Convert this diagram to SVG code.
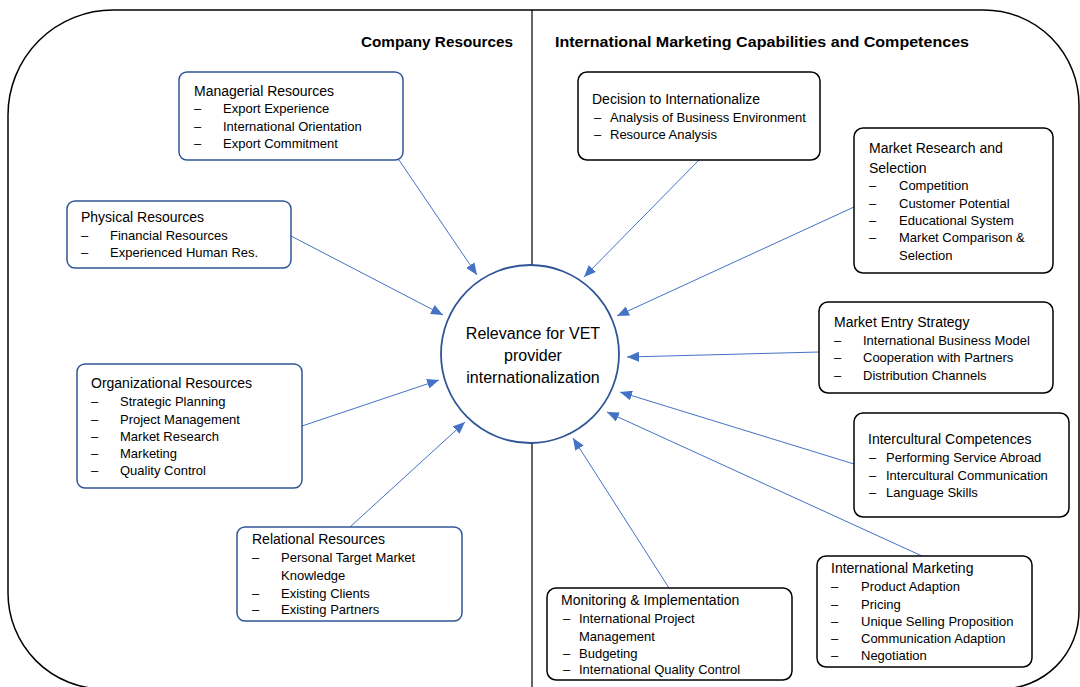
<svg xmlns="http://www.w3.org/2000/svg" width="1080" height="687" viewBox="0 0 1080 687">
<defs>
<style>
.frame{fill:none;stroke:#000;stroke-width:1.5}
.div{stroke:#000;stroke-width:1.2}
.lbox{fill:#fff;stroke:#2F5597;stroke-width:1.5}
.rbox{fill:#fff;stroke:#000;stroke-width:1.5}
.hub{fill:#fff;stroke:#2F5597;stroke-width:1.8}
.con{stroke:#4472C4;stroke-width:1;fill:none;marker-end:url(#ah)}
text{font-family:"Liberation Sans",Arial,sans-serif;fill:#000}
.h{font-size:15.5px;font-weight:bold}
.t{font-size:14px}
.i{font-size:13px}
.c{font-size:16px;text-anchor:middle}
</style>
<marker id="ah" markerUnits="userSpaceOnUse" markerWidth="13" markerHeight="10" refX="12" refY="5" orient="auto">
<path d="M0,0 L12,5 L0,10 Z" fill="#4472C4"/>
</marker>
</defs>
<rect width="1080" height="687" fill="#fff"/>
<path class="frame" d="M113,10 H984 A95 95 0 0 1 1079,105 V611 A78 78 0 0 1 1001,689 H104 A96 96 0 0 1 8,593 V115 A105 105 0 0 1 113,10 Z"/>
<line class="div" x1="532" y1="10" x2="532" y2="265"/>
<line class="div" x1="532" y1="443" x2="532" y2="687"/>
<text class="h" x="361" y="47" textLength="152" lengthAdjust="spacingAndGlyphs">Company Resources</text>
<text class="h" x="555" y="47" textLength="414" lengthAdjust="spacingAndGlyphs">International Marketing Capabilities and Competences</text>

<g id="connectors">
<line class="con" x1="399" y1="160" x2="477" y2="275"/>
<line class="con" x1="291" y1="236" x2="443" y2="315"/>
<line class="con" x1="302" y1="426" x2="439" y2="380"/>
<line class="con" x1="350" y1="527" x2="465" y2="422"/>
<line class="con" x1="699" y1="160" x2="584" y2="277"/>
<line class="con" x1="854" y1="207" x2="617" y2="316"/>
<line class="con" x1="819" y1="352" x2="627" y2="357"/>
<line class="con" x1="854" y1="464" x2="620" y2="392"/>
<line class="con" x1="922" y1="556" x2="607" y2="412"/>
<line class="con" x1="669" y1="588" x2="573" y2="438"/>
</g>

<g id="hub">
<circle class="hub" cx="530" cy="354" r="89"/>
<text class="c" x="533" y="339">Relevance for VET</text>
<text class="c" x="533" y="361">provider</text>
<text class="c" x="533" y="383">internationalization</text>
</g>

<g id="managerial">
<rect class="lbox" x="179" y="72" width="224" height="88" rx="8"/>
<text class="t" x="194" y="96">Managerial Resources</text>
<text class="i" x="194" y="113">–</text><text class="i" x="223" y="113">Export Experience</text>
<text class="i" x="194" y="131">–</text><text class="i" x="223" y="131">International Orientation</text>
<text class="i" x="194" y="148">–</text><text class="i" x="223" y="148">Export Commitment</text>
</g>

<g id="physical">
<rect class="lbox" x="67" y="201" width="224" height="67" rx="8"/>
<text class="t" x="81" y="222">Physical Resources</text>
<text class="i" x="81" y="240">–</text><text class="i" x="110" y="240">Financial Resources</text>
<text class="i" x="81" y="257">–</text><text class="i" x="110" y="257">Experienced Human Res.</text>
</g>

<g id="organizational">
<rect class="lbox" x="77" y="364" width="225" height="124" rx="8"/>
<text class="t" x="91" y="388">Organizational Resources</text>
<text class="i" x="91" y="406">–</text><text class="i" x="120" y="406">Strategic Planning</text>
<text class="i" x="91" y="424">–</text><text class="i" x="120" y="424">Project Management</text>
<text class="i" x="91" y="441">–</text><text class="i" x="120" y="441">Market Research</text>
<text class="i" x="91" y="458">–</text><text class="i" x="120" y="458">Marketing</text>
<text class="i" x="91" y="475">–</text><text class="i" x="120" y="475">Quality Control</text>
</g>

<g id="relational">
<rect class="lbox" x="237" y="527" width="225" height="94" rx="8"/>
<text class="t" x="252" y="544">Relational Resources</text>
<text class="i" x="252" y="562">–</text><text class="i" x="281" y="562">Personal Target Market</text>
<text class="i" x="281" y="580">Knowledge</text>
<text class="i" x="252" y="598">–</text><text class="i" x="281" y="598">Existing Clients</text>
<text class="i" x="252" y="614">–</text><text class="i" x="281" y="614">Existing Partners</text>
</g>

<g id="decision">
<rect class="rbox" x="578" y="72" width="242" height="88" rx="9"/>
<text class="t" x="592" y="104">Decision to Internationalize</text>
<text class="i" x="594" y="122">–</text><text class="i" x="610" y="122">Analysis of Business Environment</text>
<text class="i" x="594" y="139">–</text><text class="i" x="610" y="139">Resource Analysis</text>
</g>

<g id="market-research">
<rect class="rbox" x="854" y="128" width="199" height="145" rx="9"/>
<text class="t" x="869" y="153">Market Research and</text>
<text class="t" x="869" y="173">Selection</text>
<text class="i" x="869" y="190">–</text><text class="i" x="899" y="190">Competition</text>
<text class="i" x="869" y="208">–</text><text class="i" x="899" y="208">Customer Potential</text>
<text class="i" x="869" y="225">–</text><text class="i" x="899" y="225">Educational System</text>
<text class="i" x="869" y="242">–</text><text class="i" x="899" y="242">Market Comparison &amp;</text>
<text class="i" x="899" y="260">Selection</text>
</g>

<g id="market-entry">
<rect class="rbox" x="819" y="302" width="234" height="91" rx="9"/>
<text class="t" x="834" y="327">Market Entry Strategy</text>
<text class="i" x="834" y="345">–</text><text class="i" x="863" y="345">International Business Model</text>
<text class="i" x="834" y="362">–</text><text class="i" x="863" y="362">Cooperation with Partners</text>
<text class="i" x="834" y="380">–</text><text class="i" x="863" y="380">Distribution Channels</text>
</g>

<g id="intercultural">
<rect class="rbox" x="854" y="413" width="215" height="104" rx="9"/>
<text class="t" x="868" y="444">Intercultural Competences</text>
<text class="i" x="869" y="462">–</text><text class="i" x="886" y="462">Performing Service Abroad</text>
<text class="i" x="869" y="480">–</text><text class="i" x="886" y="480">Intercultural Communication</text>
<text class="i" x="869" y="497">–</text><text class="i" x="886" y="497">Language Skills</text>
</g>

<g id="intl-marketing">
<rect class="rbox" x="817" y="556" width="215" height="111" rx="9"/>
<text class="t" x="831" y="573">International Marketing</text>
<text class="i" x="831" y="591">–</text><text class="i" x="861" y="591">Product Adaption</text>
<text class="i" x="831" y="609">–</text><text class="i" x="861" y="609">Pricing</text>
<text class="i" x="831" y="626">–</text><text class="i" x="861" y="626">Unique Selling Proposition</text>
<text class="i" x="831" y="643">–</text><text class="i" x="861" y="643">Communication Adaption</text>
<text class="i" x="831" y="660">–</text><text class="i" x="861" y="660">Negotiation</text>
</g>

<g id="monitoring">
<rect class="rbox" x="547" y="588" width="245" height="92" rx="9"/>
<text class="t" x="561" y="605">Monitoring &amp; Implementation</text>
<text class="i" x="563" y="623">–</text><text class="i" x="579" y="623">International Project</text>
<text class="i" x="579" y="641">Management</text>
<text class="i" x="563" y="658">–</text><text class="i" x="579" y="658">Budgeting</text>
<text class="i" x="563" y="674">–</text><text class="i" x="579" y="674">International Quality Control</text>
</g>
</svg>
